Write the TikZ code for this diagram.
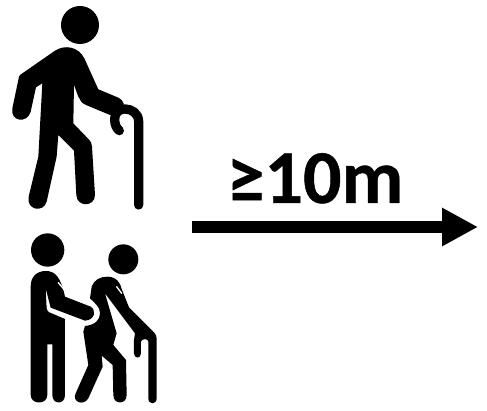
\documentclass[tikz,border=0pt]{standalone}
\usepackage{fontspec}
\setmainfont{Carlito}[BoldFeatures={FakeBold=0.6}]
\usetikzlibrary{arrows.meta}
\tikzset{
  ink/.style={fill=black,draw=none},
  stick/.style={draw=black,line cap=round,line join=round,fill=none},
  gapline/.style={draw=white,line cap=round,line join=round,fill=none},
  flow/.style={draw=black,line width=12pt,-{Triangle[length=36pt,width=36pt,inset=0pt]}},
  labeltext/.style={font=\bfseries\fontsize{76}{76}\selectfont,text=black,inner sep=0pt,anchor=base}
}
\begin{document}
\begin{tikzpicture}[x=1pt,y=-1pt]
\useasboundingbox (0,0) rectangle (487,411);
% first walker, coordinates from a 3x view
\begin{scope}[x=0.3333pt,y=-0.3333pt]
  \fill[ink] (240,75) circle[radius=57];
  \fill[ink] (60,225) -- (165,152) .. controls (195,133) and (235,140) .. (253,175)
    -- (295,268) -- (355,293) .. controls (372,300) and (376,320) .. (368,330)
    -- (330,345) -- (258,315) .. controls (245,310) and (240,300) .. (235,290)
    -- (222,255) -- (220,370) -- (268,420) .. controls (273,425) and (275,430) .. (276,440)
    -- (285,585) .. controls (285,622) and (230,622) .. (229,585)
    -- (222,452) -- (175,405) -- (170,470) -- (140,605)
    .. controls (130,640) and (78,630) .. (86,590)
    -- (115,470) -- (127,250) -- (108,262) -- (92,335)
    .. controls (82,372) and (30,365) .. (37,325) -- (55,240) .. controls (56,233) and (57,228) .. (60,225) -- cycle;
  \draw[stick,line width=9.3pt] (416,615) -- (416,365) .. controls (416,340) and (395,327) .. (375,327)
    .. controls (355,327) and (344,340) .. (344,358) .. controls (344,375) and (350,385) .. (358,392);
\end{scope}
% two walkers
\begin{scope}[shift={(20,225)},x=0.3333pt,y=-0.3333pt]
  \fill[ink] (83,75) circle[radius=50];
  \fill[ink] (310,103) circle[radius=45];
  % helper
  \fill[ink] (32,185) .. controls (32,155) and (50,138) .. (78,138) .. controls (105,138) and (122,155) .. (135,215)
    -- (212,245) .. controls (230,255) and (225,285) .. (195,287) -- (92,248) -- (77,190)
    -- (80,250) .. controls (82,258) and (84,260) .. (88,262) -- (135,282) -- (135,510)
    .. controls (135,540) and (97,540) .. (97,510) -- (97,358) -- (82,358) -- (82,510)
    .. controls (82,540) and (32,540) .. (32,510) -- cycle;
  \draw[gapline,line width=1.3pt] (115,173) -- (135,197);
  % walker with helper
  \fill[ink] (215,185) .. controls (222,165) and (240,155) .. (262,155) .. controls (290,155) and (302,175) .. (305,192)
    -- (327,247) -- (395,315) .. controls (410,328) and (410,335) .. (410,350)
    -- (410,520) .. controls (410,540) and (385,540) .. (385,520) -- (385,350) .. controls (385,340) and (365,340) .. (363,350)
    -- (363,385) .. controls (363,402) and (342,402) .. (342,385) -- (342,345)
    -- (345,325) -- (255,205) -- (290,325) -- (280,360) -- (318,405) -- (320,510)
    .. controls (320,540) and (280,540) .. (280,510) -- (278,420) -- (245,392) -- (248,425)
    -- (205,520) .. controls (190,545) and (155,530) .. (167,505) -- (205,420) -- (190,320)
    -- (195,303) .. controls (225,300) and (240,285) .. (240,265) .. controls (240,245) and (225,235) .. (210,220) -- cycle;
  \draw[gapline,line width=1.3pt] (290,185) -- (305,205);
\end{scope}
\node[labeltext] (distance) at (315,203) {≥10m};
\coordinate (flowstart) at (192,227);
\coordinate (flowend) at (478,227);
\draw[flow] (flowstart) -- (flowend);
\end{tikzpicture}
\end{document}
